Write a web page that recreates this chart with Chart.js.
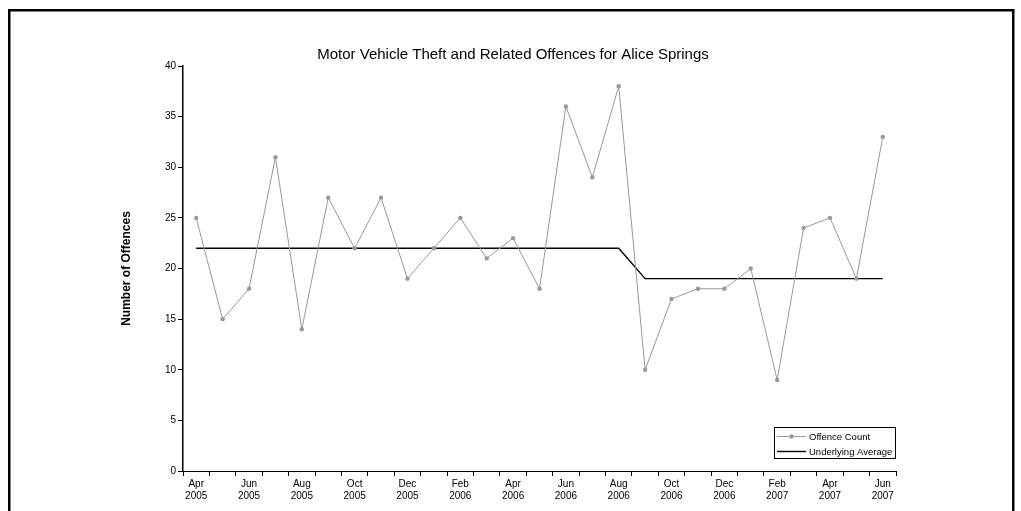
<!DOCTYPE html>
<html>
<head>
<meta charset="utf-8">
<script src="https://cdn.jsdelivr.net/npm/chart.js@4"></script>
<style>
  html, body { margin: 0; padding: 0; background: #fff; }
  #wrap { width: 1021px; height: 511px; }
</style>
</head>
<body>
<div id="wrap"><canvas id="offence-chart" width="1021" height="511"></canvas></div>
<script>
const months = ["Apr", "May", "Jun", "Jul", "Aug", "Sep", "Oct", "Nov", "Dec", "Jan", "Feb", "Mar",
  "Apr", "May", "Jun", "Jul", "Aug", "Sep", "Oct", "Nov", "Dec", "Jan", "Feb", "Mar",
  "Apr", "May", "Jun"];
const years = ["2005", "2005", "2005", "2005", "2005", "2005", "2005", "2005", "2005",
  "2006", "2006", "2006", "2006", "2006", "2006", "2006", "2006", "2006", "2006", "2006", "2006",
  "2007", "2007", "2007", "2007", "2007", "2007"];
const offenceCount = [25, 15, 18, 31, 14, 27, 22, 27, 19, 22, 25, 21, 23, 18, 36, 29, 38,
  10, 17, 18, 18, 20, 9, 24, 25, 19, 33];
const underlyingAverage = [22, 22, 22, 22, 22, 22, 22, 22, 22, 22, 22, 22, 22, 22, 22, 22, 22,
  19, 19, 19, 19, 19, 19, 19, 19, 19, 19];
const yTicks = [0, 5, 10, 15, 20, 25, 30, 35, 40];
const chartTitle = "Motor Vehicle Theft and Related Offences for Alice Springs";

const labels = months.map((m, i) => [m, years[i]]);
const FONT = "'Liberation Sans', Arial, sans-serif";

// frame round the whole picture, plus the centred title
const framePlugin = {
  id: "frame",
  beforeDraw(chart) {
    const c = chart.ctx;
    c.save();
    c.fillStyle = "#fff";
    c.fillRect(0, 0, chart.width, chart.height);
    c.strokeStyle = "#000";
    c.lineWidth = 2.5;
    c.strokeRect(9.25, 10.25, 1004, 520);
    c.fillStyle = "#000";
    c.font = "15px " + FONT;
    c.textAlign = "center";
    c.textBaseline = "middle";
    c.fillText(chartTitle, 513, 55);
    c.restore();
  },
};

// boxed legend in the lower right of the plot
const boxLegend = {
  id: "boxLegend",
  afterDraw(chart) {
    const c = chart.ctx;
    const area = chart.chartArea;
    const w = 121, h = 31;
    const x = area.right - w - 1, y = area.bottom - h - 13;
    c.save();
    c.strokeStyle = "#000";
    c.lineWidth = 1;
    c.strokeRect(x + 0.5, y + 0.5, w, h);
    c.font = "9.5px " + FONT;
    c.textBaseline = "middle";
    chart.data.datasets.forEach((ds, i) => {
      const ly = y + 9 + i * 15;
      c.strokeStyle = ds.borderColor;
      c.lineWidth = ds.borderWidth;
      c.beginPath();
      c.moveTo(x + 3, ly + 0.5);
      c.lineTo(x + 32, ly + 0.5);
      c.stroke();
      if (ds.pointRadius > 0) {
        c.fillStyle = ds.pointBackgroundColor;
        c.beginPath();
        c.arc(x + 17.5, ly + 0.5, ds.pointRadius, 0, Math.PI * 2);
        c.fill();
      }
      c.fillStyle = "#000";
      c.fillText(ds.label, x + 35, ly + 1);
    });
    c.restore();
  },
};

const ctx = document.getElementById("offence-chart").getContext("2d");

new Chart(ctx, {
  type: "line",
  data: {
    labels: labels,
    datasets: [
      {
        label: "Offence Count",
        data: offenceCount,
        borderColor: "#999999",
        borderWidth: 1,
        pointRadius: 2.2,
        pointBackgroundColor: "#999999",
        pointBorderWidth: 0,
        tension: 0,
      },
      {
        label: "Underlying Average",
        data: underlyingAverage,
        borderColor: "#000000",
        borderWidth: 1.4,
        pointRadius: 0,
        tension: 0,
      },
    ],
  },
  options: {
    responsive: false,
    animation: false,
    layout: { padding: { left: 115, right: 125, top: 66, bottom: 8 } },
    plugins: {
      legend: { display: false },
      tooltip: { enabled: false },
      title: { display: false },
    },
    scales: {
      x: {
        offset: true,
        grid: {
          offset: true,
          drawOnChartArea: false,
          drawTicks: true,
          tickLength: 5,
          color: "#000",
        },
        border: { color: "#000", width: 1 },
        ticks: {
          autoSkip: false,
          maxRotation: 0,
          padding: 2,
          color: "#000",
          font: { family: FONT, size: 10 },
          callback: (v, i) => (i % 2 === 0 ? labels[i] : ""),
        },
        afterFit: (scale) => { scale.height = 32; },
      },
      y: {
        min: 0,
        max: 40,
        afterBuildTicks: (scale) => {
          scale.ticks = yTicks.map((v) => ({ value: v }));
        },
        grid: {
          drawOnChartArea: false,
          drawTicks: true,
          tickLength: 5,
          color: "#000",
        },
        border: { color: "#000", width: 1.5 },
        ticks: {
          padding: 2,
          color: "#000",
          font: { family: FONT, size: 10 },
        },
        title: {
          display: true,
          text: "Number of Offences",
          color: "#000",
          font: { family: FONT, size: 12, weight: "bold" },
          padding: { top: 4, bottom: 0 },
        },
        afterFit: (scale) => { scale.width = 68; },
      },
    },
  },
  plugins: [framePlugin, boxLegend],
});
</script>
</body>
</html>
